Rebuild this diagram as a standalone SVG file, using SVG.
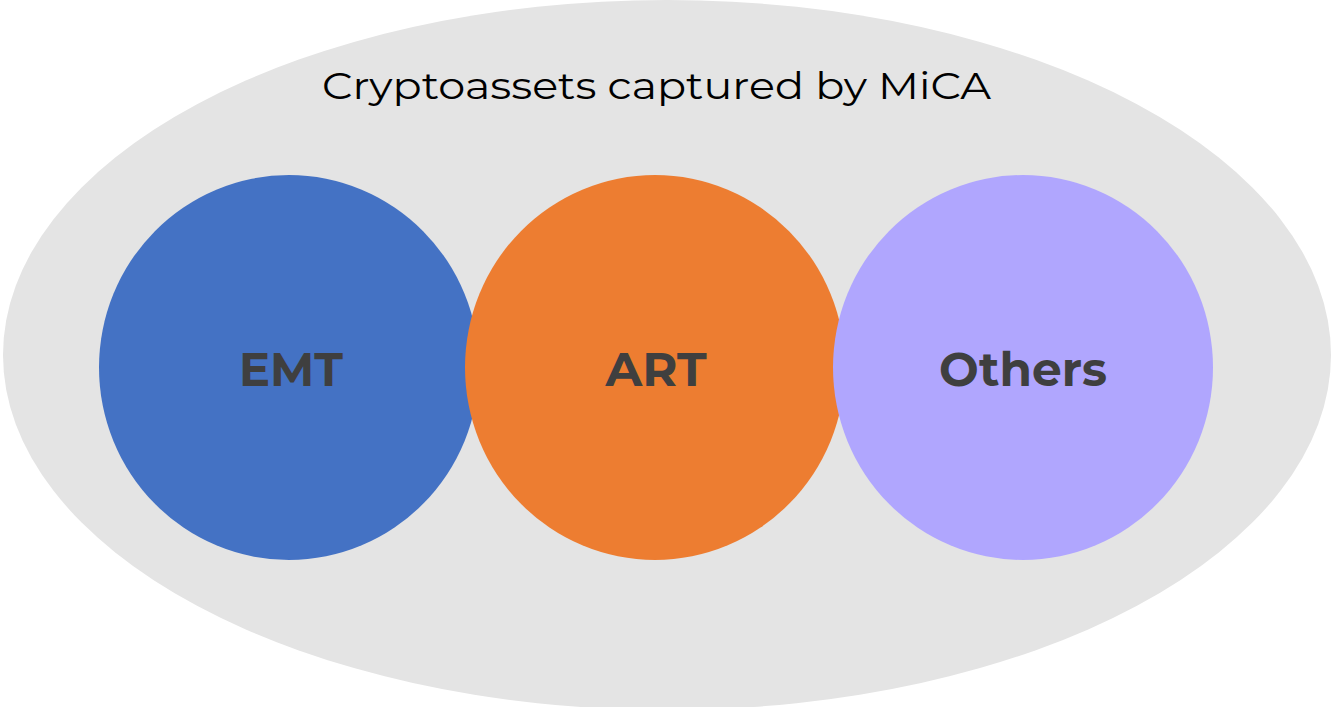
<svg xmlns="http://www.w3.org/2000/svg" width="1333" height="707" viewBox="0 0 1333 707">
<style>
.lbl{font-family:"Montserrat","Open Sans","Liberation Sans",sans-serif;font-weight:bold;font-size:48px;fill:#3f3f3f;text-anchor:middle}
.title{font-family:"Montserrat","Open Sans","Liberation Sans",sans-serif;font-size:37px;fill:#000}
</style>
<rect width="1333" height="707" fill="#ffffff"/>
<g id="mica">
<ellipse cx="667" cy="355" rx="664" ry="355" fill="#e4e4e4"/>
<text class="title" x="322" y="99" textLength="669" lengthAdjust="spacingAndGlyphs">Cryptoassets captured by MiCA</text>
</g>
<g id="emt">
<ellipse cx="289" cy="367.5" rx="190" ry="192.5" fill="#4472c4"/>
<text class="lbl" x="291" y="386" textLength="104" lengthAdjust="spacingAndGlyphs">EMT</text>
</g>
<g id="art">
<ellipse cx="655" cy="367.5" rx="190" ry="192.5" fill="#ed7d31"/>
<text class="lbl" x="656" y="386" textLength="101" lengthAdjust="spacingAndGlyphs">ART</text>
</g>
<g id="others">
<ellipse cx="1023" cy="367.5" rx="190" ry="192.5" fill="#b0a6fe"/>
<text class="lbl" x="1023" y="386" textLength="168" lengthAdjust="spacingAndGlyphs">Others</text>
</g>
<g id="connectors"/>
</svg>
